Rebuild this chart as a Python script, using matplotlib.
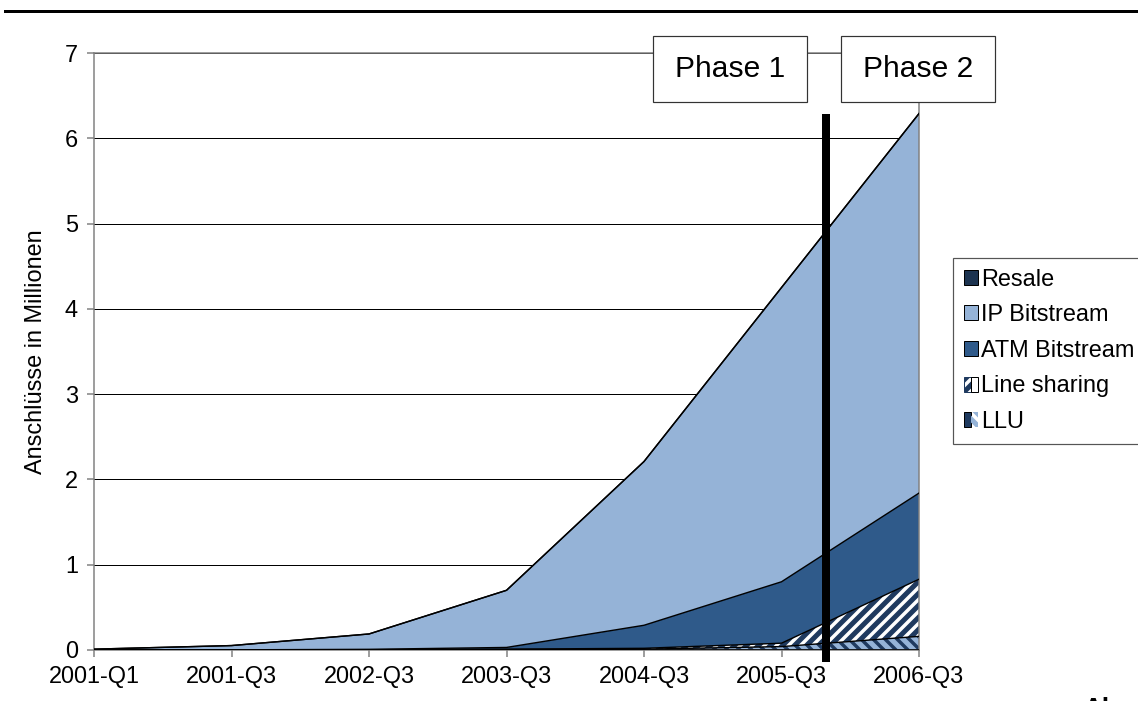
import numpy as np
import matplotlib
matplotlib.use("Agg")
import matplotlib.pyplot as plt
from matplotlib.patches import Patch, Rectangle
from matplotlib.lines import Line2D
from matplotlib.legend_handler import HandlerTuple

plt.rcParams['font.family'] = ['Liberation Sans', 'DejaVu Sans']
plt.rcParams['hatch.linewidth'] = 5

# data (Mio. connections), bottom to top
quarters = ['2001-Q1', '2001-Q3', '2002-Q3', '2003-Q3', '2004-Q3', '2005-Q3', '2006-Q3']
llu = [0.0, 0.002, 0.003, 0.005, 0.01, 0.04, 0.16]
line_sharing = [0.0, 0.0, 0.0, 0.005, 0.01, 0.04, 0.67]
atm = [0.0, 0.0, 0.005, 0.02, 0.27, 0.72, 1.01]
ip = [0.01, 0.05, 0.18, 0.67, 1.92, 3.45, 4.45]
resale = [0.0, 0.0, 0.0, 0.0, 0.0, 0.0, 0.0]

phase_split = 5.32   # position of phase change between 2005-Q3 and 2006-Q3
phase_labels = ['Phase 1', 'Phase 2']

NAVY = '#1f3a5f'
LIGHT = '#95b3d7'
ATM_C = '#2f5a8a'
RESALE_C = '#1c3350'
GREY = '#808080'
FS = 23.5

fig = plt.figure(figsize=(1138 / 72, 701 / 72), dpi=72)
ax = fig.add_axes([94 / 1138, 1 - 650 / 701, 825 / 1138, 597 / 701])

x = np.arange(len(quarters))
layers = [llu, line_sharing, atm, ip, resale]
base = np.zeros(len(x))
tops = []
for i, vals in enumerate(layers):
    top = base + np.array(vals)
    if i == 0:
        ax.fill_between(x, base, top, facecolor=NAVY, lw=0, zorder=2)
        ax.fill_between(x, base, top, facecolor='none', edgecolor=LIGHT,
                        hatch='\\\\', lw=0, zorder=2)
    elif i == 1:
        ax.fill_between(x, base, top, facecolor='white', edgecolor=NAVY,
                        hatch='//', lw=0, zorder=2)
    else:
        c = [None, None, ATM_C, LIGHT, RESALE_C][i]
        ax.fill_between(x, base, top, facecolor=c, lw=0, zorder=2)
    tops.append(top)
    base = top

for top in tops:
    ax.plot(x, top, color='black', lw=1.4, zorder=3)
ax.plot(x, np.zeros(len(x)), color='black', lw=1.6, zorder=3)

ax.set_xlim(0, len(quarters) - 1)
ax.set_ylim(0, 7)
ax.set_xticks(x)
ax.set_xticklabels(quarters)
ax.set_yticks(range(8))
ax.tick_params(axis='both', labelsize=FS, length=7, width=1.5, color=GREY)
ax.tick_params(axis='y', pad=9)
ax.tick_params(axis='x', pad=9)
ax.yaxis.grid(True, color='black', lw=1)
ax.set_axisbelow(True)
for s in ax.spines.values():
    s.set_color(GREY)
    s.set_linewidth(1.5)
ax.set_ylabel('Anschlüsse in Millionen', fontsize=FS, labelpad=18)

# phase divider
ax.plot([phase_split, phase_split], [-0.14, tops[-1][-1]], color='black',
        lw=8, solid_capstyle='butt', clip_on=False, zorder=5)

# phase boxes
for bx, label in zip([4.065, 5.433], phase_labels):
    ax.add_patch(Rectangle((bx, 6.425), 1.12, 0.774, facecolor='white',
                           edgecolor='#333333', lw=1.2, clip_on=False, zorder=6))
    ax.text(bx + 0.56, 6.425 + 0.387, label, fontsize=30, ha='center',
            va='center', zorder=7, clip_on=False)

# legend
h_resale = Patch(facecolor=RESALE_C, edgecolor='black')
h_ip = Patch(facecolor=LIGHT, edgecolor='black')
h_atm = Patch(facecolor=ATM_C, edgecolor='black')
h_ls = (Patch(facecolor='white', edgecolor=NAVY, hatch='//'),
        Patch(facecolor='none', edgecolor='black'))
h_llu = (Patch(facecolor=NAVY, edgecolor='black'),
         Patch(facecolor='none', edgecolor=LIGHT, hatch='\\\\', lw=0))
leg = fig.legend([h_resale, h_ip, h_atm, h_ls, h_llu],
                 ['Resale', 'IP Bitstream', 'ATM Bitstream', 'Line sharing', 'LLU'],
                 loc='upper left', bbox_to_anchor=(953 / 1138, 1 - 258 / 701),
                 borderaxespad=0, fontsize=FS, handlelength=0.6, handleheight=0.6,
                 handletextpad=0.15, labelspacing=0.58, borderpad=0.45,
                 fancybox=False, framealpha=1,
                 handler_map={tuple: HandlerTuple(ndivide=None, pad=0)})
leg.get_frame().set_edgecolor('#555555')
leg.get_frame().set_linewidth(1.2)

# top rule
fig.add_artist(Line2D([5 / 1138, 1], [1 - 11 / 701, 1 - 11 / 701],
                      color='black', lw=3))
fig.text(1083 / 1138, 1 - 697 / 701, 'Al', fontsize=26, fontweight='bold',
         va='top', ha='left')

fig.savefig('out.png', dpi=72)
